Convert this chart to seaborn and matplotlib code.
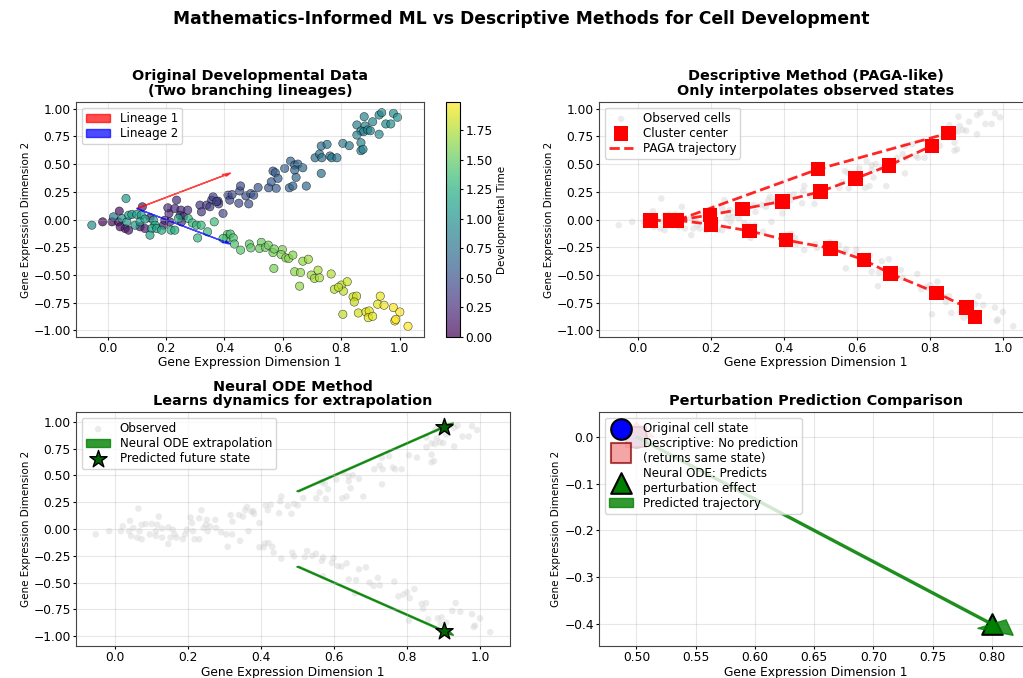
import numpy as np
import pandas as pd
import matplotlib
matplotlib.use("Agg")
import matplotlib.pyplot as plt
import seaborn as sns
from matplotlib.colors import Normalize
from matplotlib.cm import ScalarMappable

# ---------------- data ----------------
cell_x = [
    -0.017, 0.015, 0.040, 0.037, 0.060, 0.043, 0.072, 0.111, 0.128, 0.119,
    0.145, 0.191, 0.196, 0.210, 0.206, 0.236, 0.230, 0.251, 0.248, 0.259,
    0.274, 0.253, 0.213, 0.316, 0.321, 0.339, 0.356, 0.361, 0.378, 0.350,
    0.395, 0.412, 0.418, 0.426, 0.452, 0.455, 0.449, 0.473, 0.483, 0.490,
    0.380, 0.373, 0.500, 0.515, 0.551, 0.560, 0.566, 0.574, 0.577, 0.583,
    0.606, 0.622, 0.626, 0.634, 0.640, 0.651, 0.640, 0.645, 0.668, 0.680,
    0.710, 0.725, 0.733, 0.731, 0.751, 0.731, 0.761, 0.767, 0.785, 0.805,
    0.827, 0.853, 0.881, 0.867, 0.876, 0.890, 0.899, 0.853, 0.929, 0.867,
    0.867, 0.874, 0.878, 0.929, 0.938, 0.978, 0.992, 0.907, 0.952, 0.969,
    -0.054, 0.063, 0.020, 0.049, 0.066, 0.072, 0.083, 0.100, 0.115, 0.094,
    0.111, 0.128, 0.157, 0.162, 0.151, 0.145, 0.168, 0.185, 0.217, 0.230,
    0.242, 0.276, 0.290, 0.308, 0.304, 0.320, 0.365, 0.410, 0.407, 0.342,
    0.420, 0.430, 0.395, 0.434, 0.455, 0.485, 0.490, 0.526, 0.520, 0.540,
    0.550, 0.566, 0.570, 0.598, 0.594, 0.610, 0.620, 0.634, 0.569, 0.668,
    0.687, 0.640, 0.660, 0.720, 0.697, 0.708, 0.725, 0.765, 0.657, 0.776,
    0.800, 0.820, 0.807, 0.790, 0.805, 0.840, 0.852, 0.844, 0.858, 0.884,
    0.895, 0.892, 0.907, 0.933, 0.924, 0.946, 0.978, 1.000, 0.983, 0.986,
    1.028,
]
cell_y = [
    -0.020, -0.020, 0.077, -0.020, -0.080, -0.065, -0.095, -0.065, -0.080, 0.116,
    0.016, -0.050, -0.005, 0.056, 0.107, 0.176, 0.100, 0.086, 0.040, 0.025,
    0.086, -0.020, -0.020, 0.131, 0.070, 0.131, 0.176, 0.206, 0.167, 0.116,
    0.056, 0.221, 0.176, 0.226, 0.259, 0.304, 0.148, 0.214, 0.142, 0.235,
    0.142, 0.163, 0.221, 0.290, 0.287, 0.341, 0.438, 0.423, 0.282, 0.372,
    0.462, 0.287, 0.528, 0.303, 0.492, 0.501, 0.447, 0.381, 0.468, 0.303,
    0.558, 0.592, 0.558, 0.664, 0.679, 0.417, 0.574, 0.558, 0.558, 0.688,
    0.667, 0.854, 0.845, 0.800, 0.793, 0.809, 0.802, 0.763, 0.770, 0.694,
    0.622, 0.634, 0.929, 0.944, 0.965, 0.959, 0.923, 0.883, 0.863, 0.863,
    -0.050, 0.191, 0.025, 0.010, -0.020, 0.040, 0.047, 0.047, 0.040, -0.050,
    -0.020, 0.005, -0.005, -0.050, -0.080, -0.140, -0.080, -0.095, -0.095, -0.095,
    0.010, 0.010, -0.030, -0.165, -0.050, -0.050, -0.020, -0.134, -0.170, -0.110,
    -0.130, -0.165, -0.170, -0.220, -0.275, -0.220, -0.255, -0.205, -0.260, -0.250,
    -0.230, -0.297, -0.265, -0.270, -0.315, -0.345, -0.350, -0.320, -0.440, -0.375,
    -0.357, -0.470, -0.477, -0.456, -0.500, -0.530, -0.525, -0.490, -0.600, -0.628,
    -0.590, -0.560, -0.645, -0.610, -0.854, -0.697, -0.690, -0.743, -0.842, -0.833,
    -0.824, -0.884, -0.872, -0.690, -0.763, -0.772, -0.793, -0.833, -0.914, -0.900,
    -0.962,
]
cell_time = [
    0.00, 0.05, 0.08, 0.06, 0.10, 0.08, 0.12, 0.15, 0.15, 0.15,
    0.18, 0.20, 0.22, 0.22, 0.20, 0.25, 0.25, 0.25, 0.25, 0.28,
    0.28, 0.27, 0.22, 0.32, 0.32, 0.35, 0.37, 0.38, 0.38, 0.36,
    0.40, 0.42, 0.42, 0.43, 0.45, 0.46, 0.45, 0.47, 0.48, 0.50,
    0.40, 0.38, 0.50, 0.52, 0.55, 0.56, 0.57, 0.58, 0.58, 0.58,
    0.60, 0.62, 0.62, 0.63, 0.64, 0.65, 0.64, 0.65, 0.67, 0.68,
    0.70, 0.72, 0.73, 0.73, 0.75, 0.73, 0.76, 0.77, 0.78, 0.80,
    0.82, 0.85, 0.88, 0.86, 0.87, 0.89, 0.90, 0.85, 0.93, 0.87,
    0.86, 0.87, 0.88, 0.93, 0.94, 0.98, 0.99, 0.90, 0.95, 0.97,
    1.00, 1.06, 0.80, 1.05, 1.07, 1.07, 1.08, 1.10, 1.12, 1.10,
    1.11, 1.13, 1.15, 1.16, 1.15, 1.15, 1.17, 1.19, 1.22, 1.23,
    1.24, 1.27, 1.29, 1.31, 1.30, 1.32, 1.36, 1.41, 1.41, 1.34,
    1.42, 1.43, 1.40, 1.43, 1.45, 1.48, 1.49, 1.52, 1.52, 1.54,
    1.55, 1.56, 1.57, 1.60, 1.60, 1.61, 1.62, 1.63, 1.57, 1.67,
    1.69, 1.64, 1.66, 1.72, 1.70, 1.71, 1.72, 1.76, 1.66, 1.77,
    1.80, 1.82, 1.80, 1.79, 1.80, 1.84, 1.85, 1.84, 1.86, 1.88,
    1.89, 1.89, 1.90, 1.93, 1.92, 1.95, 1.97, 1.99, 1.98, 1.98,
    1.99,
]

center_x = [0.033, 0.088, 0.106, 0.196, 0.199, 0.285, 0.305, 0.395, 0.405, 0.493,
            0.500, 0.527, 0.595, 0.619, 0.687, 0.692, 0.805, 0.818, 0.850, 0.900, 0.923]
center_y = [-0.006, -0.006, -0.006, 0.042, -0.042, 0.096, -0.102, 0.166, -0.184, 0.455,
            0.253, -0.259, 0.370, -0.364, 0.488, -0.488, 0.666, -0.660, 0.780, -0.792, -0.877]
paga_paths = [
    [0, 1, 2],
    [2, 9, 18],
    [2, 3, 5, 7, 10, 12, 14, 16, 18],
    [2, 4, 6, 8, 11, 13, 15, 17, 19, 20],
]

lineage_origin = (0.1, 0.1)
lineage1_step = (0.3, 0.3)
lineage2_step = (0.3, -0.3)

ode_start_x = [0.5, 0.5]
ode_start_y = [0.35, -0.35]
ode_step_x = [0.4, 0.4]
ode_step_y = [0.6, -0.6]
future_x = [0.9, 0.9]
future_y = [0.95, -0.95]

original_state = (0.5, 0.0)
perturbed_state = (0.8, -0.4)

# ---------------- figure ----------------
plt.rcParams["font.family"] = ["DejaVu Sans"]
fig = plt.figure(figsize=(10.23, 6.78), dpi=100)

ax1 = fig.add_axes([0.0743, 0.503, 0.340, 0.3466])
cax = fig.add_axes([0.436, 0.503, 0.0137, 0.3466])
ax2 = fig.add_axes([0.5855, 0.503, 0.4242, 0.3466])
ax3 = fig.add_axes([0.0743, 0.0472, 0.4242, 0.345])
ax4 = fig.add_axes([0.5855, 0.0472, 0.4242, 0.345])

cells = pd.DataFrame({"x": cell_x, "y": cell_y, "t": cell_time})
norm = Normalize(vmin=0.0, vmax=1.99)

TICK = 8.8
XLAB = 8.8
YLAB = 7.5
TITLE = 10.4
LEG = 8.6

def style(ax, title):
    ax.set_title(title, fontsize=TITLE, fontweight="bold", linespacing=1.05, pad=5)
    ax.set_xlabel("Gene Expression Dimension 1", fontsize=XLAB, labelpad=1.0)
    ax.set_ylabel("Gene Expression Dimension 2", fontsize=YLAB, labelpad=2)
    ax.tick_params(labelsize=TICK, length=2.5, pad=1.2)
    ax.grid(True, alpha=0.3)
    for s in ax.spines.values():
        s.set_color("#444444")

def add_legend(ax):
    leg = ax.legend(loc="upper left", fontsize=LEG, handlelength=2.0,
                    borderpad=0.35, labelspacing=0.15, handletextpad=0.8)
    leg.set_zorder(20)
    return leg

# Panel 1
sns.scatterplot(data=cells, x="x", y="y", hue="t", palette="viridis", hue_norm=norm,
                s=36, alpha=0.7, edgecolor="black", linewidth=0.4, legend=False, ax=ax1)
ax1.arrow(lineage_origin[0], lineage_origin[1], lineage1_step[0], lineage1_step[1],
          head_width=0.02, color="red", alpha=0.7, label="Lineage 1")
ax1.arrow(lineage_origin[0], lineage_origin[1], lineage2_step[0], lineage2_step[1],
          head_width=0.02, color="blue", alpha=0.7, label="Lineage 2")
style(ax1, "Original Developmental Data\n(Two branching lineages)")
add_legend(ax1)
sm = ScalarMappable(norm=norm, cmap="viridis")
cb = fig.colorbar(sm, cax=cax, alpha=0.7)
cb.set_ticks([0, 0.25, 0.5, 0.75, 1.0, 1.25, 1.5, 1.75])
cb.ax.tick_params(labelsize=TICK, length=2.5, pad=1.5)
cb.set_label("Developmental Time", fontsize=YLAB, labelpad=3)

# Panel 2
sns.scatterplot(data=cells, x="x", y="y", color="lightgray", s=22, alpha=0.45,
                edgecolor="none", label="Observed cells", ax=ax2)
sns.scatterplot(x=center_x, y=center_y, marker="s", color="red", s=110,
                edgecolor="none", label="Cluster center", zorder=5, ax=ax2)
for i, path in enumerate(paga_paths):
    sns.lineplot(x=[center_x[k] for k in path], y=[center_y[k] for k in path],
                 sort=False, estimator=None, color="red", linestyle="--", linewidth=2,
                 alpha=0.85, label="PAGA trajectory" if i == 0 else None, ax=ax2)
style(ax2, "Descriptive Method (PAGA-like)\nOnly interpolates observed states")
add_legend(ax2)

# Panel 3
sns.scatterplot(data=cells, x="x", y="y", color="lightgray", s=22, alpha=0.45,
                edgecolor="none", label="Observed", ax=ax3)
for i in range(2):
    ax3.arrow(ode_start_x[i], ode_start_y[i], ode_step_x[i], ode_step_y[i],
              head_width=0.03, head_length=0.05, width=0.007, color="green", alpha=0.8,
              label="Neural ODE extrapolation" if i == 0 else None)
sns.scatterplot(x=future_x, y=future_y, marker="*", color="darkgreen", s=170,
                edgecolor="black", linewidth=1, label="Predicted future state", zorder=5, ax=ax3)
style(ax3, "Neural ODE Method\nLearns dynamics for extrapolation")
add_legend(ax3)

# Panel 4
sns.scatterplot(x=[original_state[0]], y=[original_state[1]], color="blue", s=220,
                edgecolor="black", linewidth=1.5, label="Original cell state", zorder=3, ax=ax4)
ax4.arrow(original_state[0], original_state[1], 0, 0, head_width=0.03, head_length=0.03,
          color="red", alpha=0.3, zorder=3)
sns.scatterplot(x=[original_state[0]], y=[original_state[1]], marker="s", color="lightcoral",
                s=220, edgecolor="darkred", linewidth=1.5, alpha=0.7,
                label="Descriptive: No prediction\n(returns same state)", zorder=3, ax=ax4)
sns.scatterplot(x=[perturbed_state[0]], y=[perturbed_state[1]], marker="^", color="green",
                s=220, edgecolor="black", linewidth=1.5,
                label="Neural ODE: Predicts\nperturbation effect", zorder=3, ax=ax4)
ax4.arrow(original_state[0], original_state[1],
          perturbed_state[0] - original_state[0], perturbed_state[1] - original_state[1],
          head_width=0.03, head_length=0.03, width=0.003, color="green", alpha=0.8,
          label="Predicted trajectory", zorder=4)
style(ax4, "Perturbation Prediction Comparison")
add_legend(ax4)

fig.suptitle("Mathematics-Informed ML vs Descriptive Methods for Cell Development",
             fontsize=12.3, fontweight="bold", x=0.510, y=0.985)

fig.savefig("out.png", dpi=100)
